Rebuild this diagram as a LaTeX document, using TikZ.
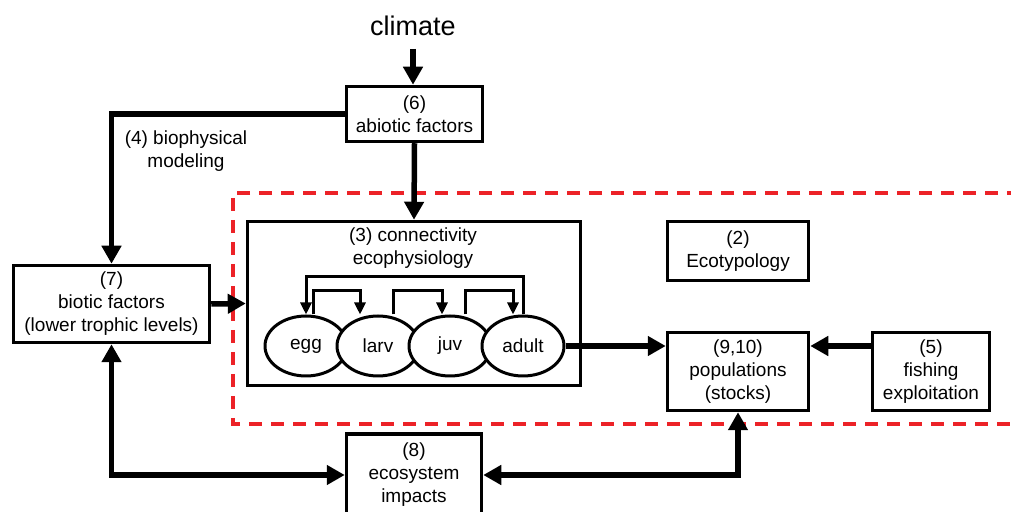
\documentclass[tikz,border=0pt]{standalone}
\usepackage{fontspec}
\setmainfont{Liberation Sans}
\usetikzlibrary{arrows.meta,shapes.geometric}
\definecolor{dashred}{RGB}{236,34,39}
\tikzset{
  txt/.style={font=\fontsize{9.5}{11.5}\selectfont,align=center},
  box/.style={txt,draw,line width=1.75pt,inner sep=0pt},
  stage/.style={txt,ellipse,draw,fill=white,line width=1.5pt,minimum width=41pt,minimum height=30pt,inner sep=0pt},
  flow/.style={line width=2.75pt,-{Triangle[width=9.5pt,length=9pt]}},
  twoway/.style={line width=2.75pt,{Triangle[width=9.5pt,length=9pt]}-{Triangle[width=9.5pt,length=9pt]}},
  stagearrow/.style={line width=1.5pt,-{Triangle[width=5.5pt,length=6pt]}},
  reddash/.style={draw=dashred,line width=1.75pt,dash pattern=on 6.5pt off 4.5pt}
}
\begin{document}
\begin{tikzpicture}[x=0.5pt,y=-0.5pt]
\useasboundingbox (0,0) rectangle (1011,512);
% Drawing the study area
\draw[reddash] (1020,193) -| (233,424) -- (1020,424);
% Drawing boxes
\node[font=\fontsize{13.5}{16}\selectfont] (climate) at (413,26) {climate};
\node[box,minimum width=68pt,minimum height=27.5pt] (abiotic) at (414.5,114) {(6)\\abiotic factors};
\node[box,minimum width=98pt,minimum height=38.5pt] (biotic) at (111.5,304) {(7)\\biotic factors\\(lower trophic levels)};
\node[box,minimum width=166.5pt,minimum height=82pt] (conn) at (414,303.5) {};
\node[txt] (conntitle) at (413,248.5) {(3) connectivity\\ecophysiology};
\node[box,minimum width=70.5pt,minimum height=29.5pt] (ecotype) at (738,251) {(2)\\Ecotypology};
\node[box,minimum width=70.5pt,minimum height=39pt] (pops) at (738,371.5) {(9,10)\\populations\\(stocks)};
\node[box,minimum width=58.5pt,minimum height=39pt] (fishing) at (931,371.5) {(5)\\fishing\\exploitation};
\node[box,minimum width=67.5pt,minimum height=41pt] (ecosys) at (414,475) {(8)\\ecosystem\\impacts};
\node[txt] (biophys) at (186,151) {(4) biophysical\\modeling};
% Life stages
\node[stage] (egg) at (306,346) {egg};
\node[stage] (larv) at (378,346) {larv};
\node[stage] (juv) at (450,346) {juv};
\node[stage] (adult) at (523,346) {adult};
% Done with boxes; drawing arrows
\draw[flow] ([yshift=-3pt]climate.south) -- (climate.south |- abiotic.north);
\draw[flow] (abiotic.west) -| (biotic.north);
\draw[flow] (abiotic.south) -- (conn.north);
\draw[flow] (biotic.east) -- (conn.west);
\draw[flow] (adult.east) -- (adult.east -| pops.west);
\draw[flow] (fishing.west |- adult.east) -- (pops.east |- adult.east);
\draw[twoway] (biotic.south) |- (ecosys.west);
\draw[twoway] (ecosys.east) -| (pops.south);
% Stage transitions
\draw[stagearrow] ([xshift=3.5pt]egg.north) -- ++(0,-24) -| ([xshift=-9pt]larv.north);
\draw[stagearrow] ([xshift=7.5pt]larv.north) -- ++(0,-24) -| ([xshift=-4pt]juv.north);
\draw[stagearrow] ([xshift=7.5pt]juv.north) -- ++(0,-24) -| ([xshift=-5pt]adult.north);
\draw[stagearrow] (adult.north) -- ++(0,-38) -| (egg.north);
% Done with arrows
\end{tikzpicture}
\end{document}
